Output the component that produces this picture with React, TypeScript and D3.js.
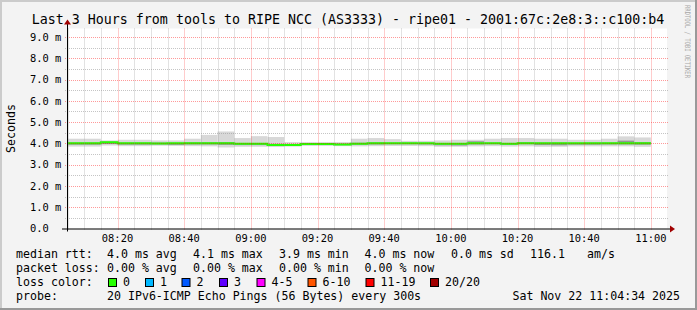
import React from "react";
import * as d3 from "d3";

const W = 697;
const H = 310;

// ---- data (ms) ----
const stepTimes = [
  "08:05", "08:10", "08:15", "08:20", "08:25", "08:30", "08:35", "08:40", "08:45", "08:50",
  "08:55", "09:00", "09:05", "09:10", "09:15", "09:20", "09:25", "09:30", "09:35", "09:40",
  "09:45", "09:50", "09:55", "10:00", "10:05", "10:10", "10:15", "10:20", "10:25", "10:30",
  "10:35", "10:40", "10:45", "10:50", "10:55",
];
const smokeMax = [
  4.22, 4.22, 4.14, 4.17, 4.17, 4.14, 4.14, 4.22, 4.40, 4.56,
  4.25, 4.34, 4.30, 4.06, 4.06, 4.06, 4.06, 4.22, 4.25, 4.20,
  4.12, 4.12, 4.14, 4.17, 4.17, 4.22, 4.25, 4.25, 4.22, 4.22,
  4.17, 4.17, 4.22, 4.33, 4.28,
];
const smokeMin = [
  3.85, 3.85, 3.90, 3.87, 3.87, 3.89, 3.88, 3.87, 3.86, 3.81,
  3.84, 3.84, 3.83, 3.85, 3.88, 3.88, 3.87, 3.86, 3.87, 3.88,
  3.88, 3.87, 3.84, 3.84, 3.86, 3.87, 3.85, 3.86, 3.84, 3.84,
  3.86, 3.86, 3.86, 3.86, 3.84,
];
const innerLo = [
  3.94, 3.94, 3.97, 3.94, 3.94, 3.95, 3.93, 3.95, 3.95, 3.93,
  3.92, 3.92, 3.90, 3.89, 3.93, 3.93, 3.92, 3.94, 3.95, 3.96,
  3.96, 3.95, 3.91, 3.90, 3.95, 3.96, 3.93, 3.96, 3.92, 3.91,
  3.94, 3.94, 3.95, 3.95, 3.94,
];
const innerHi = [
  4.04, 4.04, 4.08, 4.04, 4.04, 4.04, 4.03, 4.05, 4.05, 4.06,
  4.02, 4.02, 3.98, 3.95, 4.00, 4.00, 3.99, 4.03, 4.05, 4.04,
  4.04, 4.03, 4.01, 4.01, 4.10, 4.04, 4.02, 4.06, 4.04, 4.04,
  4.03, 4.04, 4.04, 4.13, 4.06,
];
const median = [
  4.01, 4.01, 4.05, 4.01, 4.01, 4.00, 4.01, 4.01, 4.01, 4.01,
  3.98, 3.98, 3.93, 3.92, 3.97, 3.97, 3.95, 3.98, 4.01, 4.01,
  4.01, 4.01, 3.98, 3.98, 4.01, 4.01, 3.98, 4.01, 4.01, 4.01,
  4.01, 4.01, 4.01, 4.01, 4.01,
];
const yTicks = [0, 1, 2, 3, 4, 5, 6, 7, 8, 9];
const yTickLabels = ["0.0", "1.0 m", "2.0 m", "3.0 m", "4.0 m", "5.0 m", "6.0 m", "7.0 m", "8.0 m", "9.0 m"];
const xTickLabels = ["08:20", "08:40", "09:00", "09:20", "09:40", "10:00", "10:20", "10:40", "11:00"];

const legendRtt = [
  { t: "median rtt:", x: 16 },
  { t: "4.0 ms avg", x: 107 },
  { t: "4.1 ms max", x: 193 },
  { t: "3.9 ms min", x: 279 },
  { t: "4.0 ms now", x: 364.5 },
  { t: "0.0 ms sd", x: 451 },
  { t: "116.1", x: 530 },
  { t: "am/s", x: 587 },
];
const legendLoss = [
  { t: "packet loss:", x: 16 },
  { t: "0.00 % avg", x: 107 },
  { t: "0.00 % max", x: 193 },
  { t: "0.00 % min", x: 279 },
  { t: "0.00 % now", x: 364.5 },
];
const lossLabels = ["0", "1", "2", "3", "4-5", "6-10", "11-19", "20/20"];
const lossColors = ["#26ff00", "#00b8ff", "#0059ff", "#5e00ff", "#ff00ff", "#ff5500", "#ff0000", "#a10000"];
const lossSwatchX = [108, 145, 181.5, 219, 256.5, 307.5, 365.5, 430];

const FONT = "'DejaVu Sans Mono', monospace";

function t(hm: string, sec = 0) {
  const [h, m] = hm.split(":").map(Number);
  return new Date(Date.UTC(2025, 10, 22, h, m, sec));
}

export default function App() {
  const left = 67, right = 667, top = 28.5, bottom = 228.5;
  const x = d3.scaleUtc().domain([t("08:04", 51), t("11:04", 51)]).range([left, right]);
  const y = d3.scaleLinear().domain([0, 9.4]).range([bottom, top]);
  const stepMs = 5 * 60 * 1000;

  const starts = stepTimes.map((s) => t(s));
  const ends = starts.map((d) => new Date(d.getTime() + stepMs));

  const medPts: [Date, number][] = starts.map((d, i) => [d, median[i]]);
  medPts.push([ends[ends.length - 1], median[median.length - 1]]);
  const medLine = d3
    .line<[Date, number]>()
    .x((d) => Math.max(left, x(d[0])))
    .y((d) => y(d[1]))
    .curve(d3.curveStepAfter)(medPts);

  const majorTimes = xTickLabels.map((s) => t(s));
  const allGrid = d3.utcMinute.every(5)!.range(t("08:05"), t("11:04", 52));
  const minorTimes = allGrid.filter((d) => d.getUTCMinutes() % 20 !== 0);
  const minorY = d3.range(0.5, 9.4, 1);

  const gridColor = "rgba(150,150,150,0.55)";
  const mgridColor = "rgba(255,0,0,0.4)";

  return (
    <svg width={W} height={H} style={{ display: "block", position: "absolute", left: 0, top: 0 }}>
      <rect x={0} y={0} width={W} height={H} fill="#f3f3f3" />
      {/* frame */}
      <rect x={0} y={0} width={W} height={2} fill="#cbcbcb" />
      <rect x={0} y={0} width={2} height={H} fill="#cbcbcb" />
      <rect x={W - 2} y={0} width={2} height={H} fill="#999999" />
      <rect x={0} y={H - 2} width={W} height={2} fill="#999999" />

      {/* canvas */}
      <rect x={left} y={top} width={right - left} height={bottom - top} fill="#ffffff" />

      {/* smoke */}
      {starts.map((d, i) => {
        const x0 = Math.max(left, x(d));
        const x1 = x(ends[i]);
        return (
          <g key={i}>
            <rect x={x0} y={y(smokeMax[i])} width={x1 - x0} height={y(smokeMin[i]) - y(smokeMax[i])} fill="#d8d8d8" />
            <rect x={x0} y={y(innerHi[i])} width={x1 - x0} height={y(innerLo[i]) - y(innerHi[i])} fill="#959595" />
          </g>
        );
      })}
      {/* median */}
      <path d={medLine || ""} fill="none" stroke="#26ff00" strokeWidth={2} />

      {/* grid */}
      {minorY.map((v) => (
        <line key={"my" + v} x1={left - 2} x2={right + 2} y1={Math.round(y(v)) + 0.5} y2={Math.round(y(v)) + 0.5} stroke={gridColor} strokeDasharray="1,1" />
      ))}
      {yTicks.slice(1).map((v) => (
        <line key={"My" + v} x1={left - 2} x2={right + 2} y1={Math.round(y(v)) + 0.5} y2={Math.round(y(v)) + 0.5} stroke={mgridColor} strokeDasharray="1,1" />
      ))}
      {minorTimes.map((d, i) => (
        <line key={"mx" + i} x1={Math.round(x(d)) + 0.5} x2={Math.round(x(d)) + 0.5} y1={top} y2={bottom + 2} stroke={gridColor} strokeDasharray="1,1" />
      ))}
      {majorTimes.map((d, i) => (
        <line key={"Mx" + i} x1={Math.round(x(d)) + 0.5} x2={Math.round(x(d)) + 0.5} y1={top} y2={bottom + 2} stroke={mgridColor} strokeDasharray="1,1" />
      ))}

      {/* axes */}
      <line x1={left - 5} x2={right + 4} y1={bottom + 0.5} y2={bottom + 0.5} stroke="#000" />
      <line x1={left + 0.5} x2={left + 0.5} y1={bottom + 3} y2={top - 6} stroke="#000" />
      <path d={`M${right + 3},${bottom - 3} L${right + 8},${bottom + 0.5} L${right + 3},${bottom + 4} Z`} fill="#a00000" />
      <path d={`M${left - 3},${top - 4} L${left + 0.5},${top - 9} L${left + 4},${top - 4} Z`} fill="#a00000" />

      {/* y labels */}
      {yTicks.map((v, i) => (
        <text key={"yl" + v} x={30} y={y(v) + 3.8} fontFamily={FONT} fontSize={10.4} fill="#000">
          {yTickLabels[i]}
        </text>
      ))}
      {/* x labels */}
      {majorTimes.map((d, i) => (
        <text key={"xl" + i} x={x(d)} y={242} textAnchor="middle" fontFamily={FONT} fontSize={10.4} fill="#000">
          {xTickLabels[i]}
        </text>
      ))}

      {/* title */}
      <text x={348} y={24} textAnchor="middle" fontFamily={FONT} fontSize={13.3} fill="#000">
        Last 3 Hours from tools to RIPE NCC (AS3333) - ripe01 - 2001:67c:2e8:3::c100:b4
      </text>
      {/* unit */}
      <text transform={`translate(14.5,${(top + bottom) / 2}) rotate(-90)`} textAnchor="middle" fontFamily={FONT} fontSize={11.6} fill="#000">
        Seconds
      </text>
      {/* watermark */}
      <text transform="translate(684.5,5) rotate(90)" fontFamily={FONT} fontSize={7.5} fill="#a8a8a8" textLength={73} lengthAdjust="spacingAndGlyphs">
        RRDTOOL / TOBI OETIKER
      </text>

      {/* legend */}
      {legendRtt.map((l, i) => (
        <text key={"lr" + i} x={l.x} y={258} fontFamily={FONT} fontSize={11.6} fill="#000" style={{ whiteSpace: "pre" }}>
          {l.t}
        </text>
      ))}
      {legendLoss.map((l, i) => (
        <text key={"ll" + i} x={l.x} y={272} fontFamily={FONT} fontSize={11.6} fill="#000">
          {l.t}
        </text>
      ))}
      <text x={16} y={286} fontFamily={FONT} fontSize={11.6} fill="#000">loss color:</text>
      {lossLabels.map((l, i) => (
        <g key={"lc" + i}>
          <rect x={lossSwatchX[i] + 0.5} y={278.5} width={8} height={8} fill={lossColors[i]} stroke="#000" strokeWidth={1} />
          <text x={lossSwatchX[i] + 15} y={286} fontFamily={FONT} fontSize={11.6} fill="#000">{l}</text>
        </g>
      ))}
      <text x={16} y={300} fontFamily={FONT} fontSize={11.6} fill="#000">probe:</text>
      <text x={107} y={300} fontFamily={FONT} fontSize={11.6} fill="#000">20 IPv6-ICMP Echo Pings (56 Bytes) every 300s</text>
      <text x={680} y={300} textAnchor="end" fontFamily={FONT} fontSize={11.6} fill="#000">Sat Nov 22 11:04:34 2025</text>
    </svg>
  );
}
